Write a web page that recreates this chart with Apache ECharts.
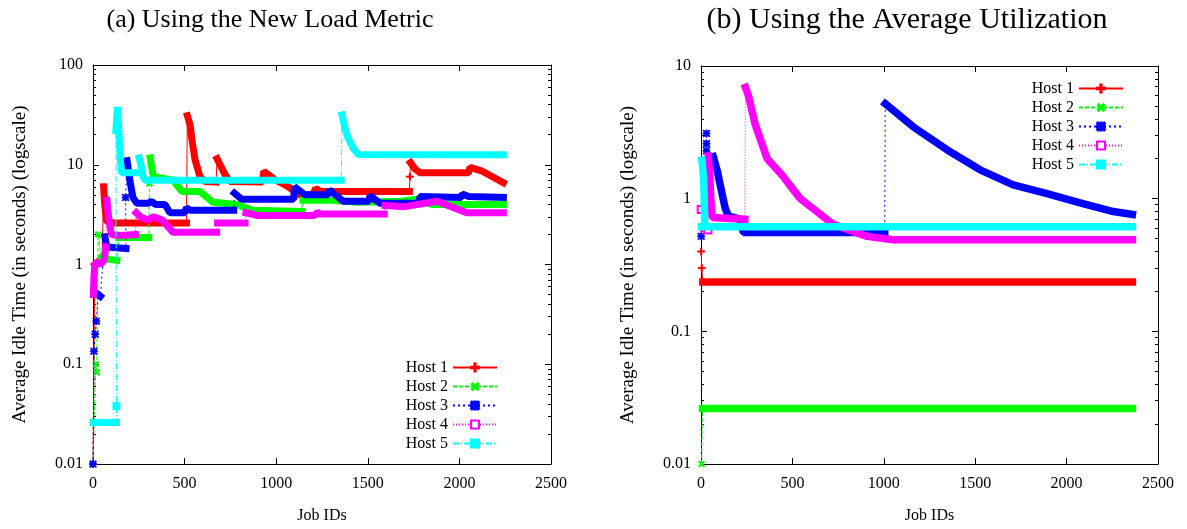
<!DOCTYPE html>
<html>
<head>
<meta charset="utf-8">
<script src="https://cdn.jsdelivr.net/npm/echarts@6/dist/echarts.min.js"></script>
<style>
  html, body { margin: 0; padding: 0; background: #fff; }
  #chart { width: 1187px; height: 529px; }
</style>
</head>
<body>
<div id="chart"></div>
<script>
  // [job id, average idle time]; null = gap between two dense runs of points
  const loadHost1 = [
    [0, 0.01], null, [10, 1.0], [50, 1.15], null,
    [58, 6.0], [64, 4.0], [75, 2.7], [120, 2.6], [510, 2.6], null,
    [515, 31], [530, 25], [540, 17.8], [557, 11.2], [584, 7.6], [611, 6.8], [672, 6.7], null,
    [677, 11.5], [700, 9.5], [720, 8.0], [748, 6.8], [925, 6.7], [932, 8.6], [993, 7.1], [1048, 6.3], [1103, 5.4], [1125, 5.0], [1200, 5.0], [1215, 5.8], [1240, 5.4], [1727, 5.4], null,
    [1730, 7.6], null,
    [1733, 10.5], [1760, 9.0], [1785, 8.3], [2050, 8.3], [2058, 9.4], [2120, 8.7], [2240, 6.6]
  ];
  const loadHost2 = [
    [0, 0.01], null, [15, 0.1], null, [20, 0.083], null, [28, 2.0], null,
    [45, 1.15], [130, 1.1], null,
    [140, 1.86], [305, 1.86], null,
    [308, 6.5], null,
    [312, 11.7], [320, 9.5], [330, 7.6], [437, 7.0], [486, 5.4], [584, 5.4], [655, 4.2], [786, 4.0], [868, 3.5], [1138, 3.4], null,
    [1146, 4.4], [1300, 4.4], [1450, 4.2], [1680, 4.3], [1770, 4.5], [1850, 4.0], [2240, 4.0]
  ];
  const loadHost3 = [
    [0, 0.01], null, [5, 0.135], null, [12, 0.2], null, [18, 0.27], null,
    [28, 0.5], [40, 0.48], null,
    [65, 1.9], [75, 1.5], [85, 1.45], [180, 1.45], null,
    [178, 4.7], null,
    [186, 11.0], [202, 6.8], [218, 4.7], [240, 4.1], [300, 4.1], [320, 4.3], [340, 4.0], [393, 4.0], [420, 3.3], [500, 3.3], [510, 3.7], [530, 3.5], [768, 3.5], null,
    [772, 5.2], [813, 4.5], [1095, 4.5], [1100, 6.0], [1157, 5.0], [1283, 5.0], [1290, 5.6], [1365, 4.3], [1505, 4.3], [1512, 4.9], [1567, 4.1], [1778, 4.1], [1785, 4.8], [2010, 4.7], [2015, 5.1], [2050, 4.8], [2240, 4.7]
  ];
  const loadHost4 = [
    [2, 0.5], [5, 0.75], [10, 1.0], [20, 1.05], [40, 1.0], [60, 1.1], [70, 1.5], null,
    [76, 4.4], [85, 3.0], [100, 2.0], [150, 1.95], [232, 2.0], null,
    [236, 3.3], [260, 3.0], [300, 2.8], [330, 3.0], [377, 2.8], [437, 2.1], [675, 2.1], null,
    [680, 2.6], [830, 2.6], null,
    [835, 3.3], [900, 3.1], [1210, 3.1], [1225, 3.35], [1240, 3.2], [1590, 3.2], null,
    [1595, 3.9], [1700, 3.8], [1878, 4.3], [2040, 3.3], [2240, 3.3]
  ];
  const loadHost5 = [
    [0, 0.026], [128, 0.026], null,
    [128, 0.038], null,
    [125, 22], [133, 38], [140, 25], [148, 12], [155, 8.3], [250, 8.3], null,
    [252, 11.7], [262, 10], [273, 7.6], [284, 7.0], [1355, 7.0], null,
    [1359, 31.6], [1376, 23], [1392, 18.6], [1419, 14.8], [1447, 12.7], [2240, 12.6]
  ];

  const utilHost1 = [[1, 0.4], null, [4, 0.3], null, [10, 0.235], [2360, 0.235]];
  const utilHost2 = [[3, 0.01], null, [8, 0.0262], [2360, 0.0262]];
  const utilHost3 = [
    [1, 0.52], null, [30, 3.1], null, [30, 2.6], null, [30, 2.3], null, [32, 1.3], null,
    [67, 2.07], [90, 1.6], [105, 1.27], [132, 0.85], [150, 0.74], [215, 0.7], [232, 0.555], [1005, 0.555], null,
    [1008, 5.2], [1162, 3.47], [1347, 2.33], [1527, 1.65], [1708, 1.27], [1893, 1.09], [2074, 0.93], [2255, 0.80], [2360, 0.76]
  ];
  const utilHost4 = [
    [1, 0.83], null, [20, 0.6], null, [38, 0.58], null,
    [40, 2.1], [48, 1.5], [55, 0.9], [62, 0.72], [240, 0.7], null,
    [243, 6.9], [259, 6.0], [297, 3.6], [362, 2.0], [444, 1.5], [543, 1.0], [723, 0.64], [909, 0.52], [1051, 0.49], [2360, 0.49]
  ];
  const utilHost5 = [[5, 1.95], [15, 1.4], [20, 0.65], null, [2, 0.615], [2360, 0.615]];

  const hostNames = ['Host 1', 'Host 2', 'Host 3', 'Host 4', 'Host 5'];
  const minorLoad = [0.02, 0.03, 0.04, 0.05, 0.06, 0.07, 0.08, 0.09, 0.2, 0.3, 0.4, 0.5, 0.6, 0.7, 0.8, 0.9,
    2, 3, 4, 5, 6, 7, 8, 9, 20, 30, 40, 50, 60, 70, 80, 90];
  const minorUtil = [0.02, 0.03, 0.04, 0.05, 0.06, 0.07, 0.08, 0.09, 0.2, 0.3, 0.4, 0.5, 0.6, 0.7, 0.8, 0.9,
    2, 3, 4, 5, 6, 7, 8, 9];

  const FONT = 'Liberation Serif';
  const plus = 'path://M4.2,0H5.8V4.2H10V5.8H5.8V10H4.2V5.8H0V4.2H4.2Z';
  const star = plus + ' M1.1,0L5,3.9L8.9,0L10,1.1L6.1,5L10,8.9L8.9,10L5,6.1L1.1,10L0,8.9L3.9,5L0,1.1Z';
  const hostStyle = [
    { color: '#ff0000', type: 'solid', symbol: plus, rotate: 0 },
    { color: '#00ff00', type: [4, 2], symbol: plus, rotate: 45 },
    { color: '#0000ff', type: [2, 3], symbol: star, rotate: 0 },
    { color: '#ff00ff', type: [1, 2], symbol: 'emptyRect', rotate: 0 },
    { color: '#00ffff', type: [6, 2, 1, 2], symbol: 'rect', rotate: 0 }
  ];

  // thin connecting line (marks only on lone points), then the dense band over it
  function hostSeries(i, data, xi, yi, band) {
    const s = hostStyle[i];
    const thin = [];
    data.forEach((d, k) => {
      if (!d) return;
      const lone = !data[k - 1] && !data[k + 1];
      thin.push(lone ? d : { value: d, symbol: 'none' });
    });
    return [{
      name: hostNames[i], type: 'line', xAxisIndex: xi, yAxisIndex: yi, z: 2 + i * 2,
      data: thin, silent: true,
      symbol: s.symbol, symbolRotate: s.rotate, symbolSize: 7, showAllSymbol: true,
      itemStyle: { color: s.color, borderColor: s.color, borderWidth: 1 },
      lineStyle: { color: s.color, width: 1, type: s.type }
    }, {
      name: hostNames[i], type: 'line', xAxisIndex: xi, yAxisIndex: yi, z: 3 + i * 2,
      data: data.map(d => d || ['-', '-']), silent: true, symbol: 'none', connectNulls: false,
      lineStyle: { color: s.color, width: band, type: 'solid', cap: 'square', join: 'bevel' }
    }];
  }

  const labelStyle = { color: '#000', fontFamily: FONT, fontSize: 16 };
  const lineBlack = { show: true, onZero: false, lineStyle: { color: '#000', width: 1 } };

  function xAx(grid, pos) {
    return {
      type: 'value', gridIndex: grid, position: pos, min: 0, max: 2500, interval: 500,
      axisLine: lineBlack, splitLine: { show: false },
      axisTick: { inside: true, length: 6, lineStyle: { color: '#000' } },
      axisLabel: pos === 'bottom' ? Object.assign({ margin: 12, formatter: v => String(v) }, labelStyle) : { show: false },
      name: pos === 'bottom' ? 'Job IDs' : '', nameLocation: 'middle', nameGap: 44,
      nameTextStyle: { color: '#000', fontFamily: FONT, fontSize: 16 }
    };
  }
  function yAx(grid, pos, max, minor, ticks) {
    const main = !minor;
    return {
      type: 'log', logBase: 10, gridIndex: grid, position: pos, min: 0.01, max: max,
      axisLine: main ? lineBlack : { show: false, onZero: false },
      splitLine: { show: false },
      axisTick: main ? { inside: true, length: 6, lineStyle: { color: '#000' } }
                     : { inside: true, length: 3, customValues: ticks, lineStyle: { color: '#000' } },
      axisLabel: (main && pos === 'left') ? Object.assign({
        margin: 10, formatter: v => String(+(+v).toPrecision(6))
      }, labelStyle) : { show: false },
      name: (main && pos === 'left') ? 'Average Idle Time (in seconds) (logscale)' : '',
      nameLocation: 'middle', nameGap: 63,
      nameTextStyle: { color: '#000', fontFamily: FONT, fontSize: 19 }
    };
  }

  const chart = echarts.init(document.getElementById('chart'));
  let series = [];
  [loadHost1, loadHost2, loadHost3, loadHost4, loadHost5].forEach((d, i) => {
    series = series.concat(hostSeries(i, d, 0, 0, 7));
  });
  [utilHost1, utilHost2, utilHost3, utilHost4, utilHost5].forEach((d, i) => {
    series = series.concat(hostSeries(i, d, 2, 4, 7.5));
  });

  const legendBase = {
    data: hostNames, orient: 'vertical', align: 'right', itemWidth: 44, itemHeight: 10, itemGap: 0,
    selectedMode: false, textStyle: { color: '#000', fontFamily: FONT, fontSize: 16, lineHeight: 19 }
  };

  chart.setOption({
    animation: false,
    backgroundColor: '#fff',
    graphic: [
      { type: 'text', x: 270, y: 20, style: { text: '(a) Using the New Load Metric', font: '26px "Liberation Serif"', fill: '#000', textAlign: 'center', textVerticalAlign: 'middle' } },
      { type: 'text', x: 907, y: 20, style: { text: '(b) Using the Average Utilization', font: '30px "Liberation Serif"', fill: '#000', textAlign: 'center', textVerticalAlign: 'middle' } }
    ],
    grid: [
      { left: 93, top: 65, width: 458, height: 400 },
      { left: 701, top: 66, width: 457, height: 400 }
    ],
    legend: [
      Object.assign({ right: 684, top: 353 }, legendBase),
      Object.assign({ right: 58, top: 74 }, legendBase)
    ],
    xAxis: [xAx(0, 'bottom'), xAx(0, 'top'), xAx(1, 'bottom'), xAx(1, 'top')],
    yAxis: [
      yAx(0, 'left', 100, false), yAx(0, 'left', 100, true, minorLoad),
      yAx(0, 'right', 100, false), yAx(0, 'right', 100, true, minorLoad),
      yAx(1, 'left', 10, false), yAx(1, 'left', 10, true, minorUtil),
      yAx(1, 'right', 10, false), yAx(1, 'right', 10, true, minorUtil)
    ],
    series: series
  });
</script>
</body>
</html>
